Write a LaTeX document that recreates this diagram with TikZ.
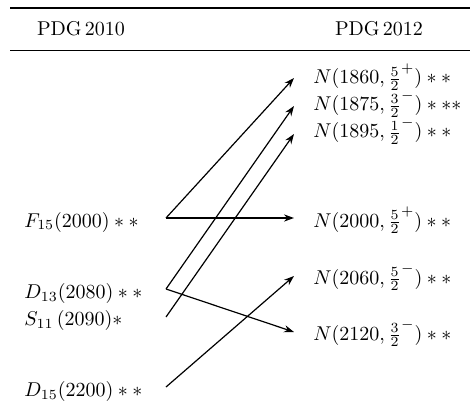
\documentclass[tikz,border=0pt]{standalone}
\usepackage{amsmath}
\usetikzlibrary{arrows.meta,positioning}
\tikzset{
  state/.style={anchor=base west, inner sep=0pt},
  link/.style={-{Stealth[length=5pt,width=3.6pt]}, line width=0.6pt},
}

\begin{document}
\begin{tikzpicture}[x=0.5pt,y=-0.5pt]
  \useasboundingbox (0,0) rectangle (470,411);
  % table rules
  \draw[line width=0.8pt] (10,8) -- (470,8);
  \draw[line width=0.5pt] (10,51) -- (470,51);
  \node (old) at (81,29) {PDG\,2010};
  \node (new) at (379,29) {PDG\,2012};
  % PDG 2010
  \node[state] (f15) at (24,227) {$F_{15}(2000)**$};
  \node[state] (d13) at (24,298) {$D_{13}(2080)**$};
  \node[state] (s11) at (24,325) {$S_{11}\,(2090)*$};
  \node[state] (d15) at (24,396) {$D_{15}(2200)**$};
  % PDG 2012
  \node[state] (n1860) at (313,84) {$N(1860,\frac{5}{2}^+)**$};
  \node[state] (n1875) at (313,111) {$N(1875,\frac{3}{2}^-)***$};
  \node[state] (n1895) at (313,138) {$N(1895,\frac{1}{2}^-)**$};
  \node[state] (n2000) at (313,227) {$N(2000,\frac{5}{2}^+)**$};
  \node[state] (n2060) at (313,284) {$N(2060,\frac{5}{2}^-)**$};
  \node[state] (n2120) at (313,340) {$N(2120,\frac{3}{2}^-)**$};
  % line ends
  \coordinate (f15s) at (166,218);
  \coordinate (d13s) at (166,289);
  \coordinate (s11s) at (166,317);
  \coordinate (d15s) at (166,387);
  \coordinate (n1860e) at (294,78);
  \coordinate (n1875e) at (294,106);
  \coordinate (n1895e) at (294,134);
  \coordinate (n2000e) at (294,218);
  \coordinate (n2060e) at (294,276);
  \coordinate (n2120e) at (294,332);
  % assignments
  \draw[link] (f15s) -- (n1860e);
  \draw[link] (f15s) -- (n2000e);
  \draw[link] (d13s) -- (n1875e);
  \draw[link] (d13s) -- (n2120e);
  \draw[link] (s11s) -- (n1895e);
  \draw[link] (d15s) -- (n2060e);
\end{tikzpicture}
\end{document}
